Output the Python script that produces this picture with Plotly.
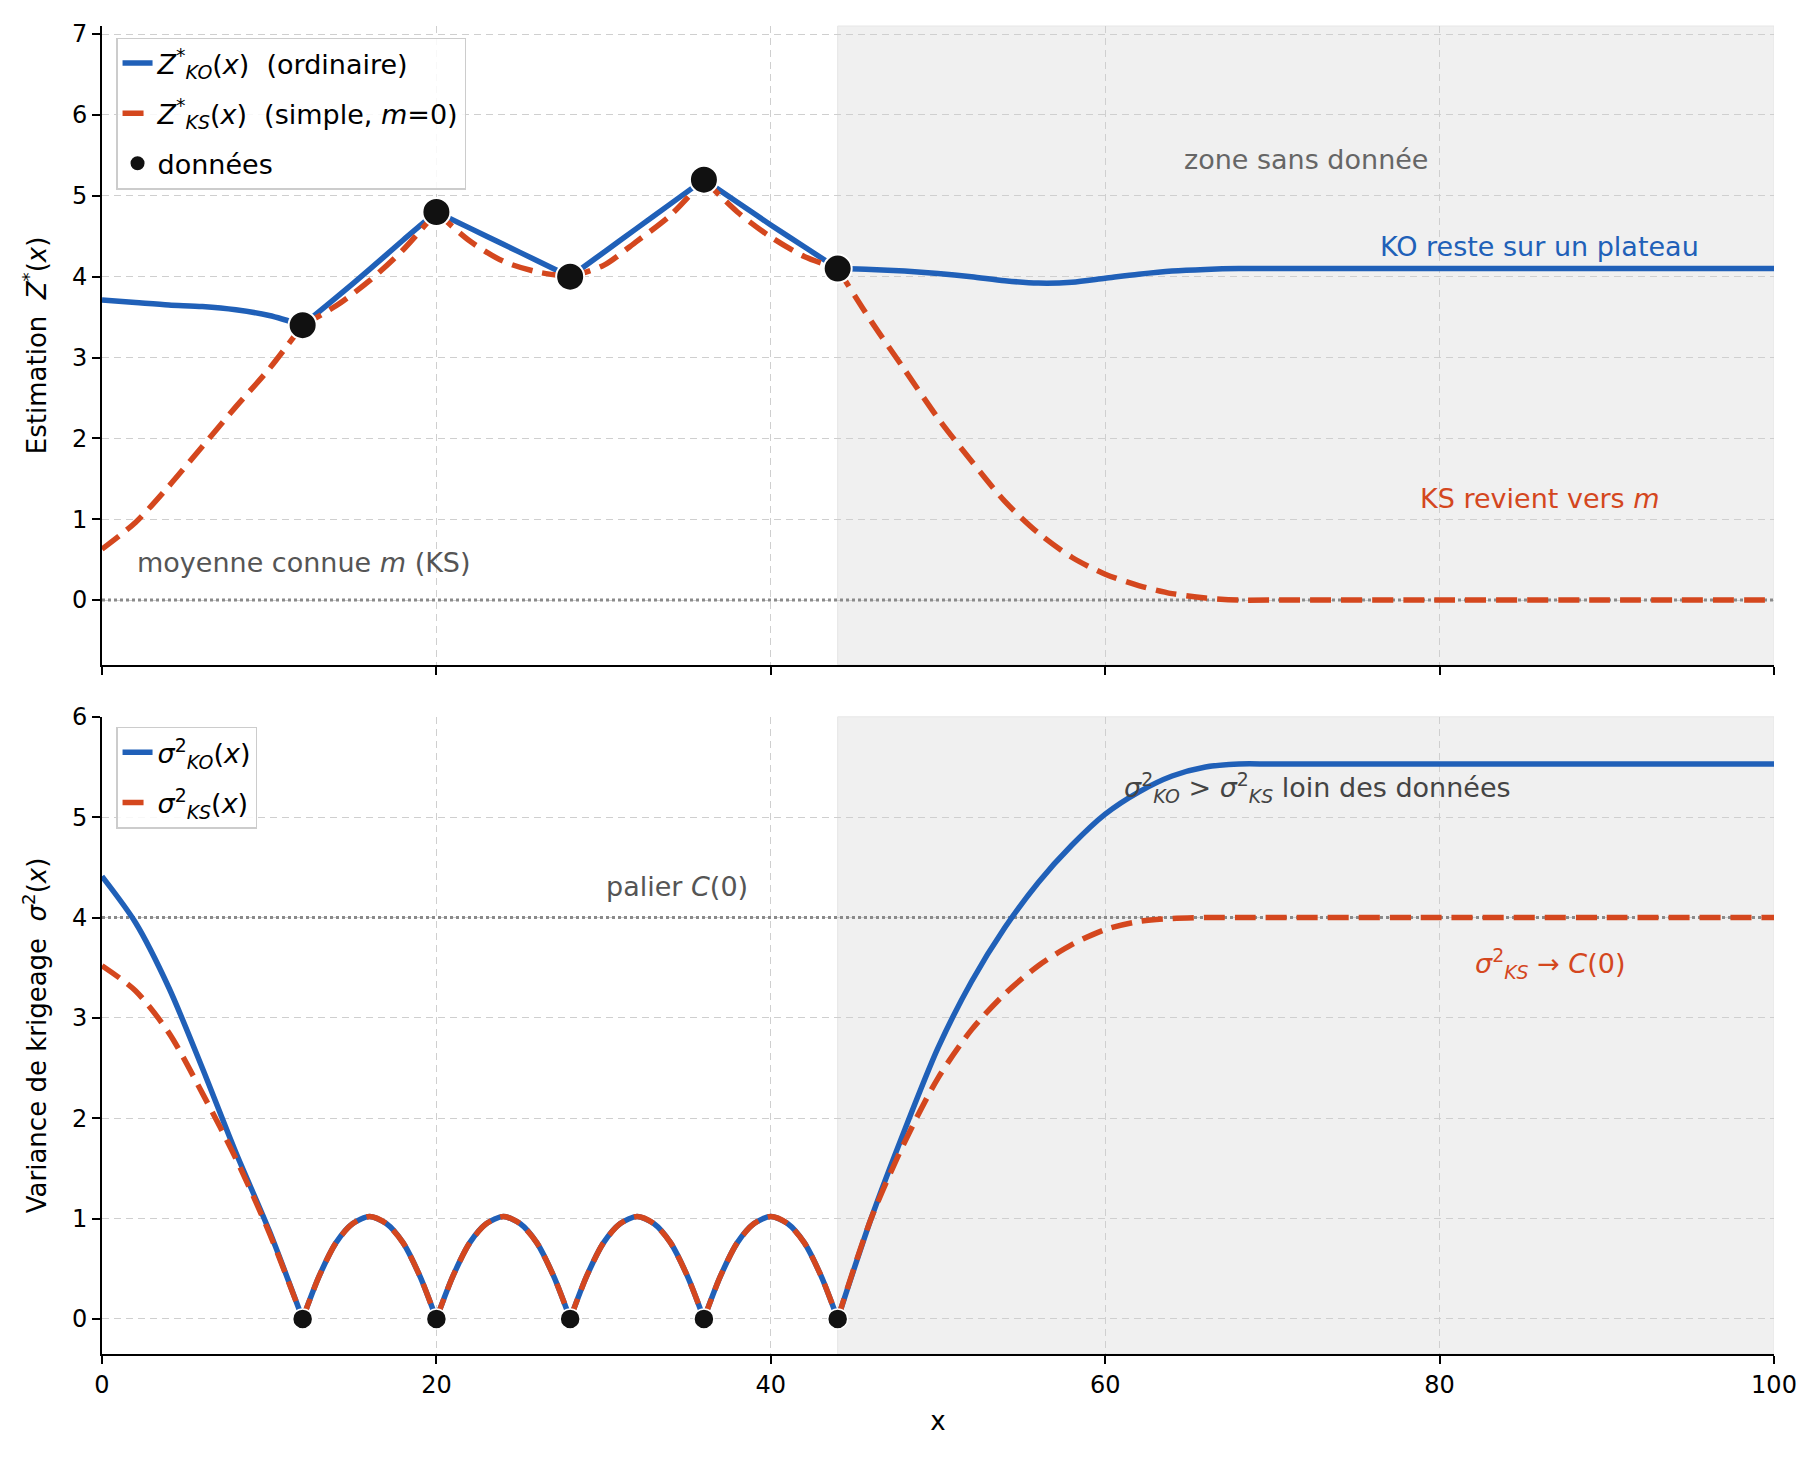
import plotly.graph_objects as go

# === DONNEES ===
x_data = [12, 20, 28, 36, 44]
z_data = [3.4, 4.8, 4.0, 5.2, 4.1]
m_known = 0.0      # moyenne connue (KS)
c0 = 4.0           # palier C(0)
x_nodata = 44      # debut de la zone sans donnee
x_max = 100

# estimations
x_top = [0, 2, 4, 6, 8, 10, 12, 14, 16, 18, 20, 22, 24, 26, 28, 30, 32, 34, 36,
         38, 40, 42, 44, 46, 48, 50, 52, 54, 56, 58, 60, 62, 64, 66, 68, 70, 80, 90, 100]
z_ko = [3.71, 3.68, 3.65, 3.63, 3.59, 3.52, 3.40, 3.74, 4.09, 4.45, 4.80, 4.60, 4.40, 4.20, 4.00,
        4.30, 4.60, 4.90, 5.20, 4.92, 4.64, 4.37, 4.10, 4.09, 4.07, 4.04, 4.00, 3.95, 3.92, 3.93,
        3.98, 4.03, 4.07, 4.09, 4.10, 4.10, 4.10, 4.10, 4.10]
z_ks = [0.63, 0.96, 1.41, 1.90, 2.39, 2.86, 3.40, 3.64, 3.95, 4.33, 4.80, 4.44, 4.19, 4.06, 4.00,
        4.14, 4.44, 4.76, 5.20, 4.80, 4.49, 4.25, 4.10, 3.45, 2.85, 2.25, 1.72, 1.22, 0.83, 0.53,
        0.32, 0.18, 0.08, 0.025, 0.0, 0.0, 0.0, 0.0, 0.0]

# variances
x_bot = [0, 2, 4, 6, 8, 10, 12,
         13, 14, 15, 16, 17, 18, 19, 20,
         21, 22, 23, 24, 25, 26, 27, 28,
         29, 30, 31, 32, 33, 34, 35, 36,
         37, 38, 39, 40, 41, 42, 43, 44,
         46, 48, 50, 52, 54, 56, 58, 60, 62, 64, 66, 68, 70, 80, 90, 100]
var_ko = [4.41, 3.95, 3.30, 2.50, 1.66, 0.88, 0.0,
          0.43, 0.76, 0.95, 1.02, 0.95, 0.76, 0.43, 0.0,
          0.43, 0.76, 0.95, 1.02, 0.95, 0.76, 0.43, 0.0,
          0.43, 0.76, 0.95, 1.02, 0.95, 0.76, 0.43, 0.0,
          0.43, 0.76, 0.95, 1.02, 0.95, 0.76, 0.43, 0.0,
          1.00, 1.88, 2.70, 3.36, 3.90, 4.35, 4.72, 5.03, 5.25, 5.41, 5.50, 5.53, 5.53, 5.53, 5.53, 5.53]
var_ks = [3.52, 3.27, 2.85, 2.25, 1.60, 0.86, 0.0,
          0.43, 0.76, 0.95, 1.02, 0.95, 0.76, 0.43, 0.0,
          0.43, 0.76, 0.95, 1.02, 0.95, 0.76, 0.43, 0.0,
          0.43, 0.76, 0.95, 1.02, 0.95, 0.76, 0.43, 0.0,
          0.43, 0.76, 0.95, 1.02, 0.95, 0.76, 0.43, 0.0,
          1.00, 1.76, 2.40, 2.88, 3.24, 3.52, 3.73, 3.88, 3.96, 3.99, 4.00, 4.00, 4.00, 4.00, 4.00, 4.00]

# === STYLE ===
BLUE = "#2060b8"
RED = "#d4471e"
FONT = "DejaVu Sans"
DASH = "21px,10px"


def split_at(xs, ys, cuts):
    # coupe la courbe aux points de donnees pour garder les angles
    ox, oy = [], []
    for i, (x, y) in enumerate(zip(xs, ys)):
        ox.append(x)
        oy.append(y)
        if x in cuts and 0 < i < len(xs) - 1:
            ox += [None, x]
            oy += [None, y]
    return ox, oy


fig = go.Figure()

# --- panneau haut : estimations ---
xk, yk = split_at(x_top, z_ko, x_data)
fig.add_trace(go.Scatter(x=xk, y=yk, mode="lines", line=dict(color=BLUE, width=5.5, shape="spline", smoothing=0.8),
                         name="<i>Z</i><sup>*</sup><sub><i>KO</i></sub>(<i>x</i>)  (ordinaire)",
                         legend="legend", xaxis="x", yaxis="y", legendgroup="a"))
xs_, ys_ = split_at(x_top, z_ks, x_data)
fig.add_trace(go.Scatter(x=xs_, y=ys_, mode="lines",
                         line=dict(color=RED, width=5.5, dash=DASH, shape="spline", smoothing=0.8),
                         name="<i>Z</i><sup>*</sup><sub><i>KS</i></sub>(<i>x</i>)  (simple, <i>m</i>=0)",
                         legend="legend", xaxis="x", yaxis="y", legendgroup="b"))
fig.add_trace(go.Scatter(x=x_data, y=z_data, mode="markers",
                         marker=dict(color="#111111", size=28, line=dict(color="white", width=2)),
                         name="données", legend="legend", xaxis="x", yaxis="y", legendgroup="c"))

# --- panneau bas : variances ---
xk2, yk2 = split_at(x_bot, var_ko, x_data)
fig.add_trace(go.Scatter(x=xk2, y=yk2, mode="lines", line=dict(color=BLUE, width=5.5, shape="spline", smoothing=0.8),
                         name="<i>σ</i><sup>2</sup><sub><i>KO</i></sub>(<i>x</i>)",
                         legend="legend2", xaxis="x2", yaxis="y2", legendgroup="d"))
xs2, ys2 = split_at(x_bot, var_ks, x_data)
fig.add_trace(go.Scatter(x=xs2, y=ys2, mode="lines",
                         line=dict(color=RED, width=5.5, dash=DASH, shape="spline", smoothing=0.8),
                         name="<i>σ</i><sup>2</sup><sub><i>KS</i></sub>(<i>x</i>)",
                         legend="legend2", xaxis="x2", yaxis="y2", legendgroup="e"))
fig.add_trace(go.Scatter(x=x_data, y=[0] * len(x_data), mode="markers",
                         marker=dict(color="#111111", size=20, line=dict(color="white", width=1.5)),
                         showlegend=False, xaxis="x2", yaxis="y2"))

# --- zones et lignes de reference ---
for yref in ["y", "y2"]:
    fig.add_shape(type="rect", xref="x" if yref == "y" else "x2", yref=f"{yref} domain",
                  x0=x_nodata, x1=x_max, y0=0, y1=1, fillcolor="#f0f0f0",
                  line=dict(color="#e6e6e6", width=1), layer="below")
fig.add_shape(type="line", xref="x", yref="y", x0=0, x1=x_max, y0=m_known, y1=m_known,
              line=dict(color="#8a8a8a", width=3, dash="dot"), layer="between")
fig.add_shape(type="line", xref="x2", yref="y2", x0=0, x1=x_max, y0=c0, y1=c0,
              line=dict(color="#8a8a8a", width=3, dash="dot"), layer="between")

# --- annotations ---
notes = [
    ("x", "y", 72, 5.45, "zone sans donnée", "#666666", "center"),
    ("x", "y", 86, 4.37, "KO reste sur un plateau", BLUE, "center"),
    ("x", "y", 86, 1.26, "KS revient vers <i>m</i>", RED, "center"),
    ("x", "y", 2, 0.46, "moyenne connue <i>m</i> (KS)", "#555555", "left"),
    ("x2", "y2", 61, 5.3, "<i>σ</i><sup>2</sup><sub><i>KO</i></sub> > <i>σ</i><sup>2</sup><sub><i>KS</i></sub> loin des données",
     "#444444", "left"),
    ("x2", "y2", 30, 4.31, "palier <i>C</i>(0)", "#555555", "left"),
    ("x2", "y2", 82, 3.54, "<i>σ</i><sup>2</sup><sub><i>KS</i></sub> → <i>C</i>(0)", RED, "left"),
]
for xr, yr, xv, yv, txt, col, anc in notes:
    fig.add_annotation(xref=xr, yref=yr, x=xv, y=yv, text=txt, showarrow=False,
                       xanchor=anc, yanchor="middle", font=dict(size=27, color=col, family=FONT))

# === LAYOUT ===
axis_common = dict(showline=True, linecolor="black", linewidth=1.6, ticks="outside", ticklen=8,
                   tickwidth=1.6, tickcolor="black", zeroline=False, showgrid=True,
                   gridcolor="#cfcfcf", gridwidth=1.2, griddash="7px,5px",
                   tickfont=dict(size=24, color="black", family=FONT))
leg_common = dict(xanchor="left", yanchor="top", bgcolor="rgba(255,255,255,0.85)",
                  bordercolor="#cccccc", borderwidth=1.5, font=dict(size=27, family=FONT),
                  tracegroupgap=12)

fig.update_layout(
    width=1816, height=1457,
    margin=dict(l=102, r=42, t=16, b=103),
    plot_bgcolor="white", paper_bgcolor="white",
    font=dict(family=FONT, size=24, color="black"),
    xaxis=dict(axis_common, domain=[0, 1], range=[0, x_max], tickvals=[0, 20, 40, 60, 80, 100],
               showticklabels=False, anchor="y", matches="x2"),
    yaxis=dict(axis_common, domain=[0.519, 1], range=[-0.8, 7.1], tickvals=list(range(0, 8)),
               title=dict(text="Estimation  <i>Z</i><sup>*</sup>(<i>x</i>)", font=dict(size=26), standoff=18),
               anchor="x"),
    xaxis2=dict(axis_common, domain=[0, 1], range=[0, x_max], tickvals=[0, 20, 40, 60, 80, 100],
                title=dict(text="x", font=dict(size=26), standoff=14), anchor="y2"),
    yaxis2=dict(axis_common, domain=[0, 0.4798], range=[-0.35, 6.0], tickvals=list(range(0, 7)),
                title=dict(text="Variance de krigeage  <i>σ</i><sup>2</sup>(<i>x</i>)", font=dict(size=26), standoff=18),
                anchor="x2"),
    legend=dict(leg_common, x=0.0084, y=0.9913),
    legend2=dict(leg_common, x=0.0084, y=0.4723),
    showlegend=True,
)

# pas de marge de page autour de la figure
fig.write_html("out.html", config={"displayModeBar": False},
               post_script="document.body.style.margin='0';document.body.style.overflow='hidden';")
